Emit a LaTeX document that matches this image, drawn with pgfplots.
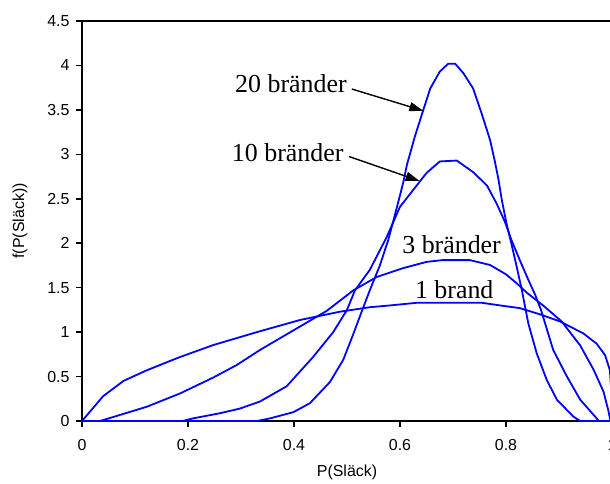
\documentclass[border=0pt]{standalone}
\usepackage{pgfplots}
\pgfplotsset{compat=1.18}
\usepackage{fontspec}
\setmainfont{Liberation Sans}
\newfontfamily\tnr{Liberation Serif}
\usetikzlibrary{arrows.meta}
\definecolor{cblue}{RGB}{0,0,255}
\tikzset{curve/.style={cblue, line width=1.8bp, mark=none}}
\begin{document}
\begin{tikzpicture}
\path[use as bounding box] (0bp,0bp) rectangle (610bp,484bp);
\begin{axis}[
  at={(82bp,63bp)}, anchor=south west,
  scale only axis, width=530bp, height=400bp,
  xmin=0, xmax=1, ymin=0, ymax=4.5,
  clip=false,
  xtick={0,0.2,0.4,0.6,0.8,1},
  ytick={0,0.5,1,1.5,2,2.5,3,3.5,4,4.5},
  tick pos=left, tick align=outside,
  major tick length=6bp,
  axis line style={line width=1.8bp},
  tick style={line width=1.5bp, black},
  ticklabel style={font=\fontsize{16}{18}\selectfont},
  xticklabel style={yshift=-9bp},
  yticklabel style={xshift=-3bp},
  /pgf/number format/assume math mode=true,
  xlabel={P(Släck)}, ylabel={f(P(Släck))},
  label style={font=\fontsize{16}{18}\selectfont},
  xlabel style={at={(axis description cs:0.5,-0.1275)}, anchor=center},
  ylabel style={at={(axis description cs:-0.117,0.5)}, anchor=center},
]
% 1 brand
\addplot[curve] coordinates {(0,0) (0.04,0.28) (0.078,0.45) (0.122,0.57) (0.185,0.72) (0.248,0.855) (0.33,1.0) (0.411,1.136) (0.487,1.23) (0.543,1.28) (0.581,1.30) (0.632,1.33) (0.754,1.33) (0.801,1.29) (0.826,1.27) (0.864,1.20) (0.902,1.12) (0.946,0.985) (0.971,0.87) (0.987,0.74) (0.996,0.57) (0.999,0.3) (1.0,0)};
% 3 brander
\addplot[curve] coordinates {(0,0) (0.034,0.0) (0.065,0.056) (0.122,0.16) (0.185,0.31) (0.248,0.49) (0.292,0.63) (0.336,0.80) (0.399,1.02) (0.462,1.24) (0.512,1.47) (0.556,1.62) (0.606,1.72) (0.65,1.79) (0.68,1.81) (0.732,1.81) (0.77,1.755) (0.80,1.65) (0.82,1.55) (0.84,1.44) (0.87,1.30) (0.905,1.12) (0.94,0.85) (0.965,0.58) (0.984,0.33) (0.993,0.12) (0.997,0) (1,0)};
% 10 brander
\addplot[curve] coordinates {(0,0) (0.19,0) (0.21,0.03) (0.26,0.087) (0.298,0.14) (0.336,0.22) (0.386,0.39) (0.436,0.72) (0.474,1.00) (0.50,1.25) (0.515,1.47) (0.543,1.70) (0.575,2.07) (0.60,2.41) (0.625,2.60) (0.65,2.79) (0.675,2.92) (0.707,2.93) (0.738,2.80) (0.764,2.65) (0.782,2.45) (0.798,2.24) (0.81,2.04) (0.826,1.81) (0.842,1.59) (0.855,1.42) (0.866,1.25) (0.889,0.80) (0.915,0.50) (0.94,0.24) (0.971,0.03) (0.975,0) (1,0)};
% 20 brander
\addplot[curve] coordinates {(0,0) (0.33,0) (0.355,0.03) (0.399,0.10) (0.43,0.20) (0.468,0.44) (0.493,0.69) (0.512,0.98) (0.527,1.22) (0.543,1.47) (0.562,1.75) (0.578,2.04) (0.594,2.40) (0.606,2.68) (0.613,2.88) (0.628,3.20) (0.644,3.50) (0.657,3.74) (0.675,3.93) (0.691,4.02) (0.704,4.02) (0.72,3.91) (0.738,3.74) (0.754,3.46) (0.77,3.16) (0.779,2.92) (0.786,2.71) (0.792,2.49) (0.801,2.22) (0.81,2.00) (0.82,1.74) (0.83,1.47) (0.842,1.10) (0.858,0.76) (0.877,0.46) (0.896,0.24) (0.927,0.05) (0.94,0) (1,0)};
\node[anchor=base west, inner sep=0pt, font=\tnr\fontsize{26}{30}\selectfont] at (axis cs:0.2887,3.70) {20 bränder};
\node[anchor=base west, inner sep=0pt, font=\tnr\fontsize{26}{30}\selectfont] at (axis cs:0.2825,2.917) {10 bränder};
\node[anchor=base west, inner sep=0pt, font=\tnr\fontsize{26}{30}\selectfont] at (axis cs:0.604,1.89) {3 bränder};
\node[anchor=base west, inner sep=0pt, font=\tnr\fontsize{26}{30}\selectfont] at (axis cs:0.628,1.38) {1 brand};
\draw[black, line width=1.4bp, -{Triangle[length=14bp,width=9bp]}] (axis cs:0.509,3.735) -- (axis cs:0.644,3.49);
\draw[black, line width=1.4bp, -{Triangle[length=14bp,width=9bp]}] (axis cs:0.504,2.975) -- (axis cs:0.637,2.70);
\end{axis}
\end{tikzpicture}
\end{document}
